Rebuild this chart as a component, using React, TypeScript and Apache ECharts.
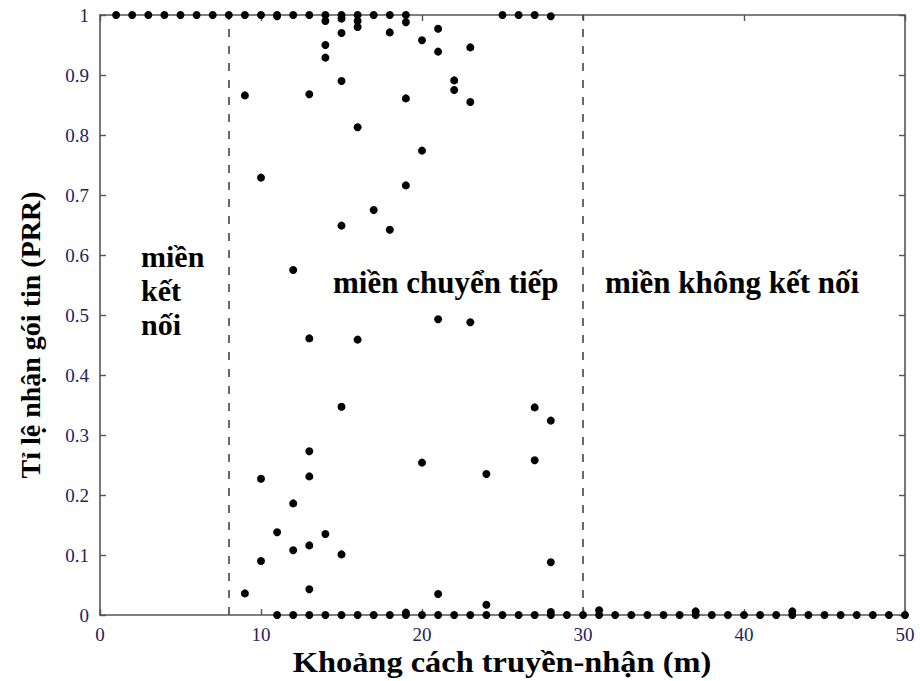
import React, { useEffect, useRef } from "react";
import * as echarts from "echarts";

// Distances (m) where every packet was received (PRR = 1)
const fullReceptionDistance = [1, 2, 3, 4, 5, 6, 7, 8, 9, 10, 11, 12, 13, 14, 15, 16, 17, 18, 19, 25, 26, 27];
// Distances (m) where no packet was received (PRR = 0)
const noReceptionDistance = [
  11, 12, 13, 14, 15, 16, 17, 18, 19, 20, 21, 22, 23, 24, 25, 26, 27, 28, 29, 30,
  31, 32, 33, 34, 35, 36, 37, 38, 39, 40, 41, 42, 43, 44, 45, 46, 47, 48, 49, 50,
];
// Remaining measurements: distance and packet reception ratio
const partialDistance = [
  9, 9, 10, 10, 10, 11, 11, 12, 12, 12, 13, 13, 13, 13, 13, 13, 14, 14, 14, 14,
  15, 15, 15, 15, 15, 15, 16, 16, 16, 16, 17, 18, 18, 19, 19, 19, 19, 20, 20, 20,
  21, 21, 21, 21, 22, 22, 23, 23, 23, 24, 24, 27, 27, 28, 28, 28, 28, 31, 37, 43,
];
const partialPrr = [
  0.866, 0.036, 0.729, 0.227, 0.09, 0.998, 0.138, 0.575, 0.186, 0.108,
  0.868, 0.461, 0.273, 0.231, 0.116, 0.043, 0.99, 0.95, 0.929, 0.135,
  0.994, 0.97, 0.89, 0.649, 0.347, 0.101, 0.99, 0.98, 0.813, 0.459,
  0.675, 0.971, 0.642, 0.988, 0.861, 0.716, 0.004, 0.958, 0.774, 0.254,
  0.977, 0.939, 0.493, 0.035, 0.891, 0.875, 0.946, 0.855, 0.488, 0.235,
  0.017, 0.346, 0.258, 0.998, 0.324, 0.088, 0.005, 0.008, 0.006, 0.006,
];
// Region boundaries (m)
const regionBounds = [8, 30];
const xTicks = [0, 10, 20, 30, 40, 50];
const yTicks = [0, 0.1, 0.2, 0.3, 0.4, 0.5, 0.6, 0.7, 0.8, 0.9, 1];

const xTitle = "Khoảng cách truyền-nhận (m)";
const yTitle = "Tỉ lệ nhận gói tin (PRR)";

const SERIF = "Liberation Serif, Times New Roman, serif";
const TICK_COLOR = "#23235e";
const AXIS_COLOR = "#555";

export default function App() {
  const ref = useRef<HTMLDivElement>(null);

  useEffect(() => {
    if (!ref.current) return;
    const chart = echarts.init(ref.current, undefined, { renderer: "svg" });

    const points: number[][] = [
      ...fullReceptionDistance.map((d) => [d, 1]),
      ...noReceptionDistance.map((d) => [d, 0]),
      ...partialDistance.map((d, i) => [d, partialPrr[i]]),
    ];

    const axisLine = { show: true, onZero: false, lineStyle: { color: AXIS_COLOR, width: 1.6 } };
    const axisTickIn = { show: true, inside: true, length: 6, lineStyle: { color: AXIS_COLOR, width: 1.4 } };

    const boldText = {
      fontFamily: SERIF,
      fontWeight: "bold" as const,
      fill: "#000",
    };

    chart.setOption({
      animation: false,
      backgroundColor: "#fff",
      grid: { left: 100, right: 15, top: 15, bottom: 66, show: false },
      xAxis: [
        {
          type: "value",
          min: 0,
          max: 50,
          interval: 10,
          splitLine: { show: false },
          axisLine,
          axisTick: axisTickIn,
          axisLabel: {
            margin: 10,
            fontFamily: SERIF,
            fontSize: 19,
            color: TICK_COLOR,
            formatter: (v: number) => (xTicks.includes(v) ? String(v) : ""),
          },
        },
        {
          type: "value",
          position: "top",
          min: 0,
          max: 50,
          interval: 10,
          splitLine: { show: false },
          axisLine,
          axisTick: axisTickIn,
          axisLabel: { show: false },
        },
      ],
      yAxis: [
        {
          type: "value",
          min: 0,
          max: 1,
          interval: 0.1,
          splitLine: { show: false },
          axisLine,
          axisTick: axisTickIn,
          axisLabel: {
            margin: 11,
            fontFamily: SERIF,
            fontSize: 19,
            color: TICK_COLOR,
            formatter: (v: number) => {
              const t = yTicks.find((y) => Math.abs(y - v) < 1e-6);
              return t === undefined ? "" : String(t);
            },
          },
        },
        {
          type: "value",
          position: "right",
          min: 0,
          max: 1,
          interval: 0.1,
          splitLine: { show: false },
          axisLine,
          axisTick: axisTickIn,
          axisLabel: { show: false },
        },
      ],
      series: [
        {
          type: "scatter",
          xAxisIndex: 0,
          yAxisIndex: 0,
          data: points,
          symbol: "circle",
          symbolSize: 8,
          itemStyle: { color: "#000", opacity: 1 },
          z: 5,
          markLine: {
            silent: true,
            symbol: ["none", "none"],
            label: { show: false },
            lineStyle: { type: [8, 9], color: "#444", width: 1.6 },
            data: regionBounds.map((x) => ({ xAxis: x })),
          },
        },
      ],
      graphic: [
        // axis titles
        {
          type: "text",
          x: 502,
          y: 662,
          scaleX: 1.08,
          style: { ...boldText, fontSize: 30, text: xTitle, align: "center", verticalAlign: "middle" },
        },
        {
          type: "text",
          x: 30,
          y: 335,
          rotation: Math.PI / 2,
          style: { ...boldText, fontSize: 28, text: yTitle, align: "center", verticalAlign: "middle" },
        },
        // region labels
        {
          type: "text",
          left: 141,
          top: 239,
          style: { ...boldText, fontSize: 30, text: "miền\nkết\nnối", lineHeight: 34 },
        },
        {
          type: "text",
          left: 333,
          top: 267,
          style: { ...boldText, fontSize: 31, text: "miền chuyển tiếp" },
        },
        {
          type: "text",
          left: 605,
          top: 267,
          style: { ...boldText, fontSize: 31, text: "miền không kết nối" },
        },
      ],
    });

    return () => chart.dispose();
  }, []);

  return (
    <div
      ref={ref}
      style={{ position: "fixed", left: 0, top: 0, width: 920, height: 681 }}
    />
  );
}
